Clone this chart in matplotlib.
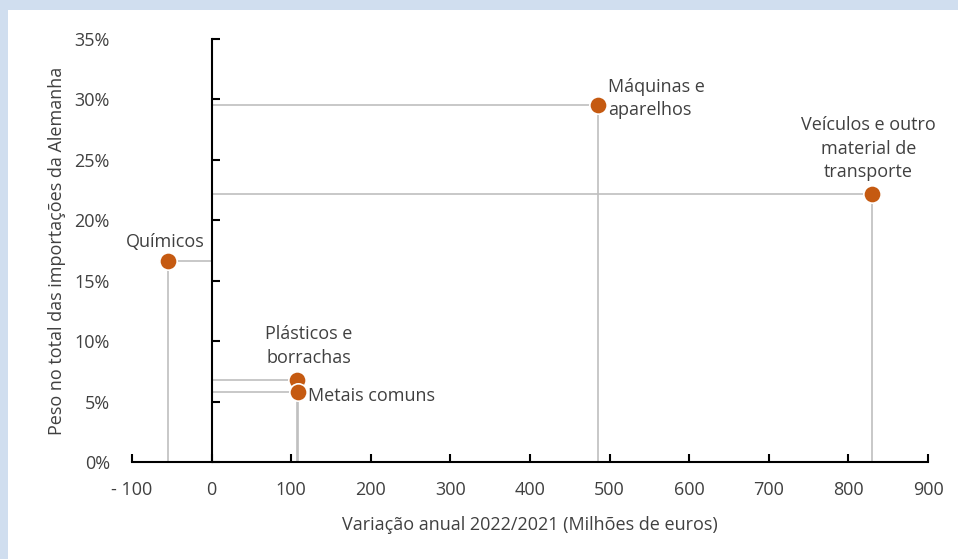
import matplotlib.pyplot as plt
import matplotlib.patches as patches
from matplotlib.ticker import FuncFormatter

plt.rcParams['font.family'] = ['Open Sans', 'DejaVu Sans']

# data
categories = ['Químicos', 'Máquinas e\naparelhos', 'Veículos e outro\nmaterial de\ntransporte',
              'Plásticos e\nborrachas', 'Metais comuns']
variacao = [-55, 486, 830, 107, 108]          # milhões de euros
peso = [0.166, 0.295, 0.222, 0.068, 0.058]    # peso no total
x_ticks = [-100, 0, 100, 200, 300, 400, 500, 600, 700, 800, 900]
x_tick_labels = ['- 100', '0', '100', '200', '300', '400', '500', '600', '700', '800', '900']
y_ticks = [0, 0.05, 0.10, 0.15, 0.20, 0.25, 0.30, 0.35]

# label placement (offset pixels, ha)
label_pos = [(-3, 19, 'center'), (10, 7, 'left'), (-4, 45, 'center'),
             (12, 34, 'center'), (10, -4, 'left')]

txt = '#404040'
orange = '#c55a11'
grey = '#bfbfbf'
fs = 13

fig = plt.figure(figsize=(9.58, 5.59), dpi=100)
fig.patch.set_facecolor('#d0deef')
bg = patches.Rectangle((8 / 958, 0), 1, (559 - 10) / 559,
                       transform=fig.transFigure, facecolor='white',
                       edgecolor='none', zorder=-10)
fig.add_artist(bg)

ax = fig.add_axes([132 / 958, 1 - 462 / 559, (928 - 132) / 958, (462 - 39) / 559])
ax.set_facecolor('none')

# drop lines (error bars to the axes)
for x, y in zip(variacao, peso):
    ax.errorbar([x], [y], xerr=[[max(x, 0)], [max(-x, 0)]], yerr=[[y], [0]],
                fmt='none', ecolor=grey, elinewidth=1.2, capsize=5, capthick=1.2, zorder=2)

ax.plot(variacao, peso, 'o', color=orange, markersize=12.5,
        markeredgecolor='white', markeredgewidth=1.2, zorder=4, clip_on=False)

for name, x, y, (dx, dy, ha) in zip(categories, variacao, peso, label_pos):
    ax.annotate(name, (x, y), xytext=(dx, dy), textcoords='offset pixels',
                ha=ha, va='center', fontsize=fs, color=txt, linespacing=1.4, zorder=5)

ax.set_xlim(-100, 900)
ax.set_ylim(0, 0.35)

ax.set_xticks(x_ticks)
ax.set_xticklabels(x_tick_labels)
ax.set_yticks(y_ticks)
ax.yaxis.set_major_formatter(FuncFormatter(lambda v, p: f'{v * 100:.0f}%'))

for s in ['top', 'right', 'left']:
    ax.spines[s].set_visible(False)
ax.spines['bottom'].set_linewidth(1.5)
ax.spines['bottom'].set_zorder(3)

ax.tick_params(axis='x', direction='in', length=6, width=1.5, pad=14,
               labelsize=fs, labelcolor=txt)
ax.tick_params(axis='y', length=0, pad=16, labelsize=fs, labelcolor=txt)

# vertical axis drawn at x = 0
sec = ax.secondary_yaxis(0.1)
sec.spines['left'].set_linewidth(1.5)
sec.set_yticks(y_ticks)
sec.tick_params(axis='y', direction='in', length=6, width=1.5, labelleft=False)
sec.set_zorder(3)

ax.set_xlabel('Variação anual 2022/2021 (Milhões de euros)', fontsize=fs, color=txt, labelpad=12)
ax.set_ylabel('Peso no total das importações da Alemanha', fontsize=fs, color=txt, labelpad=6)

fig.savefig('out.png', dpi=100)
